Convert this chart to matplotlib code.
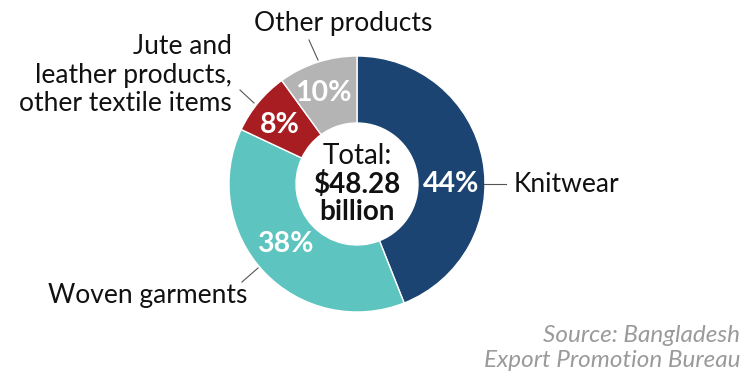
import matplotlib
matplotlib.use("Agg")
import matplotlib.pyplot as plt

categories = ["Knitwear", "Woven garments",
              "Jute and\nleather products,\nother textile items", "Other products"]
shares = [44, 38, 8, 10]
pct_labels = ["44%", "38%", "8%", "10%"]
colors = ["#1b4472", "#5ec4c0", "#a81d22", "#b4b4b4"]
total_lines = ["Total:", "$48.28", "billion"]
source = "Source: Bangladesh\nExport Promotion Bureau"

W, H = 746, 379
fig = plt.figure(figsize=(W / 100, H / 100), dpi=100)
ax = fig.add_axes([0, 0, 1, 1])

def Y(y):
    return H - y

cx, cy, R = 357, 184, 128
ax.pie(shares, colors=colors, startangle=90, counterclock=False,
       center=(cx, Y(cy)), radius=R, frame=True,
       wedgeprops=dict(width=R - 61, edgecolor="white", linewidth=1))
ax.set_xlim(0, W)
ax.set_ylim(0, H)
ax.set_aspect("equal")
ax.axis("off")

font = "Lato"
# percentage labels
pct_pos = [(451, 184), (285, 244), (280, 125), (323, 93)]
for (x, y), t in zip(pct_pos, pct_labels):
    ax.text(x, Y(y), t, ha="center", va="center", color="white",
            fontsize=20.5, fontweight="bold", family=font)

# center text
ax.text(cx, Y(156), total_lines[0], ha="center", va="center", fontsize=20,
        family=font, color="#111111")
ax.text(cx, Y(185), total_lines[1], ha="center", va="center", fontsize=20,
        family=font, fontweight="bold", color="#111111")
ax.text(cx, Y(212), total_lines[2], ha="center", va="center", fontsize=20,
        family=font, fontweight="bold", color="#111111")

lc = "#555555"
# leader lines
ax.plot([484, 506], [Y(184), Y(184)], color=lc, lw=0.8)
ax.plot([258, 242], [Y(268), Y(282)], color=lc, lw=0.8)
ax.plot([254, 240], [Y(103), Y(90)], color=lc, lw=0.8)
ax.plot([318, 309], [Y(60), Y(40)], color=lc, lw=0.8)

lfs = 19
ax.text(514, Y(184), categories[0], ha="left", va="center", fontsize=lfs,
        family=font, color="#111111")
ax.text(247, Y(296), categories[1], ha="right", va="center", fontsize=lfs,
        family=font, color="#111111")
ax.text(232, Y(75), categories[2], ha="right", va="center", fontsize=lfs,
        family=font, color="#111111", linespacing=1.18, multialignment="right")
ax.text(343, Y(24), categories[3], ha="center", va="center", fontsize=lfs,
        family=font, color="#111111")

ax.text(740, Y(348), source, ha="right", va="center", fontsize=17.5,
        family=font, style="italic", color="#9a9a9a", linespacing=1.2,
        multialignment="right")

fig.savefig("out.png", dpi=100, facecolor="white")
